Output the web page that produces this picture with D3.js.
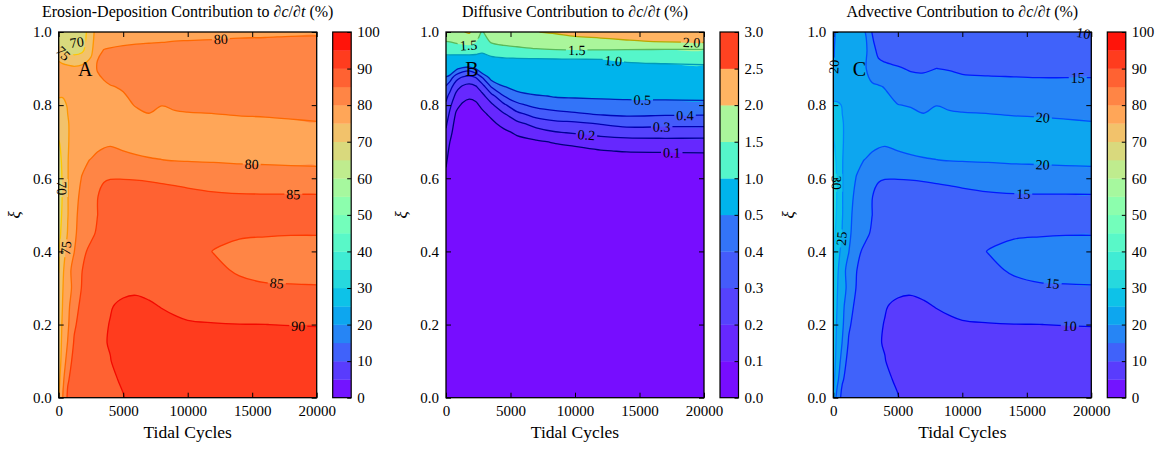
<!DOCTYPE html>
<html><head><meta charset="utf-8">
<script src="https://cdn.jsdelivr.net/npm/d3@7"></script>
<style>
body{margin:0;background:#fff;}
svg, svg text{font-family:"Liberation Serif","DejaVu Serif",serif;fill:#000;}
.tick text{font-size:15px;}
</style></head><body>
<svg id="chart" width="1166" height="450" style="font-family:'Liberation Serif','DejaVu Serif',serif"></svg>
<script>
// ---------------- DATA ----------------
// grid for panels A and C
const tidalCycles = [0, 300, 700, 1200, 1800, 2500, 3000, 3500, 4000, 5000, 6000, 7000, 8000, 9000, 10000, 12000, 14000, 16000, 18000, 20000];
const xiRows = [0, 0.05, 0.1, 0.15, 0.2, 0.25, 0.3, 0.35, 0.4, 0.45, 0.5, 0.55, 0.6, 0.65, 0.7, 0.75, 0.8, 0.85, 0.9, 0.95, 1.0];

// Erosion-Deposition contribution (%) : one row per xi (bottom to top)
const erosionDeposition = [
 [74.5, 79.8, 85.8, 87.5, 88.2, 88.5, 88.7, 88.9, 89.2, 89.9, 91, 92, 92.5, 92.8, 93, 93, 93, 93, 93, 93],
 [73.5, 78.5, 84.5, 87, 88.2, 88.8, 89.1, 89.4, 89.6, 90.3, 91.6, 92.2, 92.7, 92.9, 93, 93, 93, 93, 93, 93],
 [72.5, 77, 82, 87, 88, 88.9, 89.3, 89.6, 89.9, 91.3, 92, 92.3, 92.5, 92.6, 92.6, 92.5, 92.5, 92.5, 92.5, 92.5],
 [72, 76.3, 80.2, 85.5, 87.5, 88.8, 89.4, 89.8, 90.2, 91.2, 91.7, 91.8, 91.7, 91.6, 91.5, 91.5, 91.5, 91.5, 91.5, 91.5],
 [71.5, 75.8, 79.2, 84.3, 87, 88.5, 89.2, 89.7, 90.1, 90.8, 91, 90.9, 90.7, 90.5, 90.3, 90.15, 90.05, 90.02, 89.9, 89.8],
 [71, 75.1, 78.8, 83, 86.3, 88, 88.8, 89.4, 89.85, 90.5, 90.6, 90.3, 89.9, 89.5, 89, 88.6, 88.3, 88.1, 88, 88],
 [70.5, 74.7, 78.2, 81.3, 85.3, 87.3, 88, 88.5, 88.9, 89.4, 89.6, 89.4, 89, 88.6, 88, 87, 86, 85.5, 85.4, 85.3],
 [69.9, 74, 78.5, 81.5, 84.9, 86.8, 87.5, 88, 88.3, 88.5, 88.5, 88.4, 88.2, 87.8, 87.2, 85.8, 84.5, 83.8, 83.6, 83.5],
 [69.5, 72.5, 77, 79.9, 84.2, 85.8, 86.5, 87, 87.3, 87.5, 87.5, 87.4, 87.2, 87, 86.5, 84.9, 84.2, 83.8, 83.6, 83.5],
 [69, 71, 75.3, 79.2, 82, 84.3, 85.4, 86.3, 86.8, 87.2, 87.3, 87.3, 87.2, 87.1, 86.8, 86, 85.4, 85.3, 85.2, 85.2],
 [68.5, 70.5, 74.8, 79, 81.5, 83.8, 84.95, 86.3, 87, 87.5, 87.6, 87.6, 87.5, 87.4, 87.2, 86.8, 86.8, 86.9, 87, 87],
 [68.5, 70.2, 74.8, 78.6, 81, 83.5, 84.9, 86, 86.5, 86.7, 86.8, 86.8, 86.7, 86.5, 86.3, 85.8, 85.6, 85.5, 85.5, 85.5],
 [68.5, 70.3, 74.8, 78, 80.2, 82.5, 84, 84.7, 84.9, 84.9, 84.8, 84.6, 84.3, 84, 83.5, 82.7, 81.9, 81.8, 81.6, 81.5],
 [69, 70.5, 74.8, 77.5, 79, 80.2, 81, 81.3, 81.5, 81, 80.7, 80.3, 80.05, 79.8, 79.7, 79.6, 79.5, 79.4, 79.3, 79.2],
 [69.8, 71, 74.8, 76, 76.8, 77.5, 78.7, 79.3, 79.5, 79, 78.3, 78.1, 78, 78, 78, 78, 78, 78, 78, 78],
 [72, 72.5, 74.8, 76, 76.2, 76.5, 76.8, 77, 77.3, 77.8, 78.5, 79, 78.8, 79, 79.2, 79.3, 79.5, 79.6, 79.75, 79.9],
 [74, 74.3, 75.2, 76, 76.5, 77, 77.5, 78, 78.5, 79.2, 80.2, 80.8, 80.05, 80.4, 80.5, 80.6, 80.7, 80.75, 80.8, 80.8],
 [76.5, 76, 76, 76.5, 77, 77.8, 78.5, 79.3, 79.8, 80.3, 81.5, 81.8, 82, 82, 82, 82.2, 82.3, 82.5, 82.6, 82.7],
 [77, 77, 76.5, 76, 76.5, 77.5, 80.3, 81.2, 81.8, 82.5, 83, 83.2, 83.3, 83.4, 83.5, 83.5, 83.6, 83.6, 83.6, 83.6],
 [72, 69.5, 68.5, 68, 69, 73.5, 79.6, 80.05, 80.15, 80.3, 80.4, 80.5, 80.6, 80.7, 80.8, 81, 81.2, 81.4, 81.6, 81.8],
 [66, 66.5, 67, 67.5, 68.5, 71.5, 78.5, 78.8, 79, 79.1, 79.2, 79.2, 79.2, 79.3, 79.3, 79.3, 79.4, 79.4, 79.5, 79.5]
];

// Advective contribution (%)
const advective = [
 [24.5, 18, 13.5, 12.5, 11.8, 11.5, 11.3, 11.1, 10.8, 10.1, 9, 8, 7.5, 7.2, 7, 7, 7, 7, 7, 7],
 [26.5, 21.5, 15.5, 13, 11.8, 11.2, 10.9, 10.6, 10.4, 9.7, 8.4, 7.8, 7.3, 7.1, 7, 7, 7, 7, 7, 7],
 [27.5, 23, 18, 13, 12, 11.1, 10.7, 10.4, 10.1, 8.7, 8, 7.7, 7.5, 7.4, 7.4, 7.5, 7.5, 7.5, 7.5, 7.5],
 [28, 23.7, 19.8, 14.5, 12.5, 11.2, 10.6, 10.2, 9.8, 8.8, 8.3, 8.2, 8.3, 8.4, 8.5, 8.5, 8.5, 8.5, 8.5, 8.5],
 [28.5, 24.2, 20.8, 15.7, 13, 11.5, 10.8, 10.3, 9.9, 9.2, 9, 9.1, 9.3, 9.5, 9.7, 9.85, 9.95, 9.98, 10.1, 10.2],
 [29, 24.9, 21.2, 17, 13.7, 12, 11.2, 10.6, 10.15, 9.5, 9.4, 9.7, 10.1, 10.5, 11, 11.4, 11.7, 11.9, 12, 12],
 [29.5, 25.3, 21.8, 18.7, 14.7, 12.7, 12, 11.5, 11.1, 10.6, 10.4, 10.6, 11, 11.4, 12, 13, 14, 14.5, 14.6, 14.7],
 [30.1, 26, 21.5, 18.5, 15.1, 13.2, 12.5, 12, 11.7, 11.5, 11.5, 11.6, 11.8, 12.2, 12.8, 14.2, 15.5, 16.2, 16.4, 16.5],
 [30.5, 27.5, 23, 20.1, 15.8, 14.2, 13.5, 13, 12.7, 12.5, 12.5, 12.6, 12.8, 13, 13.5, 15.1, 15.8, 16.2, 16.4, 16.5],
 [31, 29, 24.7, 20.8, 18, 15.7, 14.6, 13.7, 13.2, 12.8, 12.7, 12.7, 12.8, 12.9, 13.2, 14, 14.6, 14.7, 14.8, 14.8],
 [31.5, 29.5, 25.2, 21, 18.5, 16.2, 15.05, 13.7, 13, 12.5, 12.4, 12.4, 12.5, 12.6, 12.8, 13.2, 13.2, 13.1, 13, 13],
 [31.5, 29.8, 25.2, 21.4, 19, 16.5, 15.1, 14, 13.5, 13.3, 13.2, 13.2, 13.3, 13.5, 13.7, 14.2, 14.4, 14.5, 14.5, 14.5],
 [31.5, 29.7, 25.2, 22, 19.8, 17.5, 16, 15.3, 15.1, 15.1, 15.2, 15.4, 15.7, 16, 16.5, 17.3, 18.1, 18.2, 18.4, 18.5],
 [31, 29.5, 25.2, 22.5, 21, 19.8, 19, 18.7, 18.5, 19, 19.3, 19.7, 19.95, 20.2, 20.3, 20.4, 20.5, 20.6, 20.7, 20.8],
 [30.2, 29, 25.2, 24, 23.2, 22.5, 21.3, 20.7, 20.5, 21, 21.7, 21.9, 22, 22, 22, 22, 22, 22, 22, 22],
 [28, 27.5, 25.2, 24, 23.8, 23.5, 23.2, 23, 22.7, 22.2, 21.5, 21, 21.2, 21, 20.8, 20.7, 20.5, 20.4, 20.25, 20.1],
 [26, 25.7, 24.8, 24, 23.5, 23, 22.5, 22, 21.5, 20.1, 19.8, 19.2, 19.95, 19.6, 19.5, 19.4, 19.3, 19.25, 19.2, 19.2],
 [21.5, 22, 22, 22, 21.8, 21.3, 20.8, 20.4, 19.8, 18, 16.5, 16.3, 16.6, 16.5, 16.3, 16.2, 16.1, 16, 16, 16],
 [19.8, 21.5, 22, 22.2, 21.8, 20.3, 17.5, 16.3, 15.8, 15.3, 14.7, 14.6, 15.02, 14.8, 14.4, 14.2, 14.1, 14, 14, 14],
 [19.3, 22, 22.5, 22.5, 22, 21, 16.5, 14, 13.5, 13, 12.8, 12.7, 12.6, 12.6, 12.6, 12.6, 12.6, 12.6, 12.5, 12.5],
 [18.5, 21.5, 22, 22, 21.5, 19.9, 14.9, 13.5, 13, 12.5, 12, 12, 11.8, 11.6, 11.5, 11.2, 11, 10.7, 10.3, 9.6]
];

// grid for panel B
const diffTidalCycles = [0, 300, 800, 1300, 1800, 2300, 2800, 3500, 4500, 5500, 7000, 8500, 10000, 12000, 14000, 17000, 20000];
const diffXiRows = [0, 0.5, 0.6, 0.625, 0.65, 0.675, 0.7, 0.725, 0.75, 0.775, 0.8, 0.825, 0.85, 0.875, 0.9, 0.925, 0.95, 0.975, 1.0];
// Diffusive contribution (%)
const diffusive = [
 [0, 0, 0, 0, 0, 0, 0, 0, 0, 0, 0, 0, 0, 0, 0, 0, 0],
 [0, 0, 0, 0, 0, 0, 0, 0, 0, 0, 0, 0, 0, 0, 0, 0, 0],
 [0.045, 0.02, 0, 0, 0, 0, 0, 0, 0, 0, 0, 0, 0, 0, 0, 0.005, 0.005],
 [0.095, 0.03, 0.005, 0, 0, 0, 0, 0.003, 0.005, 0.005, 0.008, 0.01, 0.012, 0.015, 0.018, 0.02, 0.02],
 [0.12, 0.05, 0.01, 0.005, 0.005, 0.005, 0.005, 0.008, 0.012, 0.015, 0.025, 0.03, 0.035, 0.045, 0.05, 0.052, 0.055],
 [0.142, 0.075, 0.02, 0.01, 0.01, 0.01, 0.012, 0.015, 0.025, 0.035, 0.05, 0.06, 0.07, 0.095, 0.107, 0.11, 0.112],
 [0.164, 0.101, 0.03, 0.02, 0.015, 0.015, 0.02, 0.03, 0.045, 0.065, 0.088, 0.11, 0.131, 0.159, 0.168, 0.173, 0.171],
 [0.187, 0.128, 0.045, 0.03, 0.025, 0.025, 0.035, 0.05, 0.075, 0.117, 0.156, 0.193, 0.209, 0.228, 0.244, 0.245, 0.245],
 [0.214, 0.156, 0.06, 0.045, 0.035, 0.038, 0.05, 0.075, 0.136, 0.176, 0.24, 0.272, 0.282, 0.308, 0.337, 0.331, 0.329],
 [0.248, 0.183, 0.085, 0.06, 0.05, 0.055, 0.075, 0.122, 0.189, 0.268, 0.34, 0.37, 0.386, 0.406, 0.415, 0.41, 0.407],
 [0.282, 0.22, 0.126, 0.085, 0.07, 0.08, 0.121, 0.178, 0.28, 0.378, 0.425, 0.444, 0.45, 0.457, 0.462, 0.461, 0.461],
 [0.329, 0.27, 0.172, 0.135, 0.116, 0.13, 0.173, 0.26, 0.401, 0.454, 0.488, 0.509, 0.514, 0.519, 0.525, 0.53, 0.536],
 [0.39, 0.338, 0.233, 0.186, 0.171, 0.188, 0.25, 0.402, 0.493, 0.543, 0.597, 0.626, 0.632, 0.639, 0.647, 0.655, 0.663],
 [0.484, 0.447, 0.333, 0.282, 0.263, 0.295, 0.393, 0.537, 0.637, 0.677, 0.718, 0.743, 0.75, 0.76, 0.77, 0.78, 0.791],
 [0.669, 0.634, 0.523, 0.464, 0.445, 0.502, 0.613, 0.72, 0.786, 0.812, 0.84, 0.86, 0.868, 0.88, 0.892, 0.905, 0.918],
 [0.871, 0.857, 0.814, 0.784, 0.771, 0.805, 0.849, 0.904, 0.935, 0.946, 0.961, 0.977, 0.986, 0.998, 1.05, 1.086, 1.115],
 [1.132, 1.145, 1.18, 1.214, 1.237, 1.167, 1.07, 1.2, 1.318, 1.375, 1.447, 1.476, 1.49, 1.481, 1.467, 1.443, 1.436],
 [1.51, 1.53, 1.606, 1.67, 1.706, 1.555, 1.26, 1.566, 1.662, 1.7, 1.74, 1.786, 1.829, 1.887, 1.96, 2.048, 2.097],
 [1.7, 1.8, 1.9, 1.98, 2.05, 1.75, 1.45, 1.8, 1.9, 1.95, 1.99, 2.05, 2.15, 2.22, 2.28, 2.35, 2.4]
];

// contour levels, line levels, ticks
const pctLevels = [0, 5, 10, 15, 20, 25, 30, 35, 40, 45, 50, 55, 60, 65, 70, 75, 80, 85, 90, 95, 100];
const pctTicks = [0, 10, 20, 30, 40, 50, 60, 70, 80, 90, 100];
const diffLevels = [0, 0.1, 0.2, 0.3, 0.4, 0.5, 1.0, 1.5, 2.0, 2.5, 3.0];
const erosionLines = [70, 75, 80, 85, 90];
const diffLines = [0.1, 0.2, 0.3, 0.4, 0.5, 1.0, 1.5, 2.0];
const advectLines = [10, 15, 20, 25, 30];
const xTickValues = [0, 5000, 10000, 15000, 20000];
const yTickValues = [0, 0.2, 0.4, 0.6, 0.8, 1.0];

// contour label anchors (value, tidal cycle, xi [, fixed angle])
const erosionLabels = [[70,1400,0.972,-8],[75,360,0.942,45],[80,12580,0.976],[80,14960,0.634],[85,18190,0.561],[85,16900,0.31],[90,18570,0.194],[70,100,0.573],[75,490,0.409]];
const diffLabels = [[1.5,1730,0.96],[1.5,10130,0.95],[1.0,12970,0.921],[2.0,19040,0.969],[0.5,15220,0.828],[0.4,18530,0.773],[0.3,16720,0.743],[0.2,10900,0.723],[0.1,17500,0.673]];
const advectLabels = [[10,19330,0.983],[15,18950,0.878],[20,16230,0.759],[20,16230,0.634],[15,14730,0.561],[15,17000,0.31],[10,18330,0.194],[20,260,0.905],[30,260,0.588],[25,440,0.436]];

// ---------------- DRAWING ----------------
const W = 1166, H = 450;
const PT = 32, PH = 365.7, PW = 258;
const FONT = '"Liberation Serif","DejaVu Serif",serif';
const svg = d3.select('#chart');
const defs = svg.append('defs');
const closedCurve = d3.line().curve(d3.curveCatmullRomClosed.alpha(0.5));
const openCurve = d3.line().curve(d3.curveCatmullRom.alpha(0.5));

function rainbow(x){
  x = Math.max(0, Math.min(1, x));
  const r = Math.min(1, Math.abs(2*x - 0.5)), g = Math.sin(Math.PI*x), b = Math.cos(Math.PI*x/2);
  return d3.rgb(r*255, g*255, b*255) + '';
}
const jetR=[[0,0],[0.35,0],[0.66,1],[0.89,1],[1,0.5]];
const jetG=[[0,0],[0.125,0],[0.375,1],[0.64,1],[0.91,0],[1,0]];
const jetB=[[0,0.5],[0.11,1],[0.34,1],[0.65,0],[1,0]];
function seg(s,x){ for(let i=1;i<s.length;i++){ if(x<=s[i][0]){ const [a0,b0]=s[i-1],[a1,b1]=s[i]; return b0+(b1-b0)*(x-a0)/(a1-a0);} } return s[s.length-1][1]; }
function jet(x){ return d3.rgb(seg(jetR,x)*255, seg(jetG,x)*255, seg(jetB,x)*255); }

function dedupe(pts){
  const out = [];
  pts.forEach(p => { const q = out[out.length-1]; if (!q || Math.abs(q[0]-p[0]) > 0.02 || Math.abs(q[1]-p[1]) > 0.02) out.push(p); });
  if (out.length > 1) { const a = out[0], b = out[out.length-1]; if (Math.abs(a[0]-b[0]) <= 0.02 && Math.abs(a[1]-b[1]) <= 0.02) out.pop(); }
  return out;
}

function drawPanel(p){
  const x0 = p.left, x1 = x0 + PW, y0 = PT, y1 = PT + PH;
  const xS = d3.scaleLinear().domain([0, 20000]).range([x0, x1]);
  const yS = d3.scaleLinear().domain([0, 1]).range([y1, y0]);
  const nx = p.t.length, ny = p.xi.length;
  const gx = d3.scaleLinear().domain(d3.range(nx)).range(p.t).clamp(true);
  const gy = d3.scaleLinear().domain(d3.range(ny)).range(p.xi).clamp(true);
  const proj = c => [xS(gx(c[0]-0.5)), yS(gy(c[1]-0.5))];
  const values = [].concat(...p.z);
  const L = p.levels, vmin = L[0], vmax = L[L.length-1];
  const bandColor = i => rainbow(((L[i]+L[i+1])/2 - vmin)/(vmax - vmin));

  defs.append('clipPath').attr('id','clip'+p.id).append('rect')
    .attr('x',x0).attr('y',y0).attr('width',PW).attr('height',PH);
  const g = svg.append('g').attr('clip-path',`url(#clip${p.id})`);
  g.append('rect').attr('x',x0).attr('y',y0).attr('width',PW).attr('height',PH).attr('fill',bandColor(0));
  const filled = d3.contours().size([nx, ny]).thresholds(L.slice(0,-1))(values);
  filled.forEach((c,i) => {
    if (!c.coordinates.length) return;
    const d = c.coordinates.map(poly => poly.map(ring => {
      const pts = dedupe(ring.map(proj));
      return pts.length > 2 ? closedCurve(pts) : '';
    }).join('')).join('');
    g.append('path').attr('d', d).attr('fill', bandColor(i)).attr('fill-rule','evenodd');
  });

  // contour lines
  const eq = (a,b) => Math.abs(a-b) < 1e-6;
  const onFrame = (a,b) => (eq(a[0],b[0]) && (eq(a[0],x0)||eq(a[0],x1))) || (eq(a[1],b[1]) && (eq(a[1],y0)||eq(a[1],y1)));
  const lineC = d3.contours().size([nx, ny]).thresholds(p.lineLevels)(values);
  const lines = lineC.map(c => {
    const polys = [];
    c.coordinates.forEach(poly => poly.forEach(ring => {
      const pts = dedupe(ring.map(proj));
      const n = pts.length;
      if (n < 3) return;
      let start = -1;
      for (let k=0;k<n;k++){ if (onFrame(pts[k], pts[(k+1)%n])) { start = (k+1)%n; break; } }
      if (start < 0) { polys.push({pts, closed:true}); return; }
      const seq = [];
      for (let k=0;k<=n;k++) seq.push(pts[(start+k)%n]);
      let cur = [];
      for (let k=0;k<seq.length-1;k++){
        const a = seq[k], b = seq[k+1];
        if (onFrame(a,b)) { if (cur.length>1) polys.push({pts:cur, closed:false}); cur = []; continue; }
        if (!cur.length) cur.push(a);
        cur.push(b);
      }
      if (cur.length>1) polys.push({pts:cur, closed:false});
    }));
    return {level: c.value, polys};
  });
  const maskId = 'mask'+p.id;
  const mask = defs.append('mask').attr('id',maskId).attr('maskUnits','userSpaceOnUse')
    .attr('x',0).attr('y',0).attr('width',W).attr('height',H);
  mask.append('rect').attr('width',W).attr('height',H).attr('fill','#fff');
  const lg = g.append('g').attr('mask',`url(#${maskId})`);
  lines.forEach(l => {
    let col = jet((l.level - vmin)/(vmax - vmin));
    if (p.lineDarken) col = col.darker(p.lineDarken);
    l.polys.forEach(pl => lg.append('path')
      .attr('d', pl.closed ? closedCurve(pl.pts) : openCurve(pl.pts))
      .attr('fill','none').attr('stroke',col+'').attr('stroke-width',1.3).attr('stroke-linejoin','round'));
  });

  // contour labels
  const labG = svg.append('g');
  p.labels.forEach(([v,t,xi,fixAng]) => {
    const target = [xS(t), yS(xi)];
    const ln = lines.find(l => Math.abs(l.level - v) < 1e-9);
    let best = null;
    if (ln) ln.polys.forEach(P => {
      const pl = P.pts;
      for (let k=0;k<pl.length-1;k++){
        const a=pl[k], b=pl[k+1], dx=b[0]-a[0], dy=b[1]-a[1], len2=dx*dx+dy*dy;
        let u = len2 ? ((target[0]-a[0])*dx + (target[1]-a[1])*dy)/len2 : 0;
        u = Math.max(0, Math.min(1, u));
        const q = [a[0]+u*dx, a[1]+u*dy];
        const d = Math.hypot(q[0]-target[0], q[1]-target[1]);
        if (!best || d < best.d) {
          const A = pl[Math.max(0,k-1)], B = pl[Math.min(pl.length-1,k+2)];
          best = {d, q, ang: Math.atan2(B[1]-A[1], B[0]-A[0])*180/Math.PI};
        }
      }
    });
    let pos = target, ang = 0;
    if (best && best.d < 14) { pos = best.q; ang = best.ang; if (ang > 90) ang -= 180; if (ang < -90) ang += 180; }
    if (fixAng !== undefined) { pos = target; ang = fixAng; }
    const tr = `translate(${pos[0].toFixed(2)},${pos[1].toFixed(2)}) rotate(${ang.toFixed(1)})`;
    const txt = labG.append('text').attr('transform',tr).attr('text-anchor','middle')
      .attr('dy','0.35em').style('font-family',FONT).style('font-size','14px').text(p.labelFmt(v));
    const w = txt.node().getComputedTextLength();
    mask.append('rect').attr('x',-w/2-2).attr('y',-6).attr('width',w+4).attr('height',12)
      .attr('transform',tr).attr('fill','#000');
  });

  // axes
  const axG = svg.append('g');
  const ax = [
    axG.append('g').attr('transform',`translate(0,${y1})`).call(d3.axisBottom(xS).tickValues(xTickValues).tickSize(-5).tickPadding(8).tickFormat(d3.format('d'))),
    axG.append('g').attr('transform',`translate(0,${y0})`).call(d3.axisTop(xS).tickValues(xTickValues).tickSize(-5).tickFormat('')),
    axG.append('g').attr('transform',`translate(${x0},0)`).call(d3.axisLeft(yS).tickValues(yTickValues).tickSize(-5).tickPadding(7).tickFormat(d3.format('.1f'))),
    axG.append('g').attr('transform',`translate(${x1},0)`).call(d3.axisRight(yS).tickValues(yTickValues).tickSize(-5).tickFormat(''))
  ];
  ax.forEach(a => { a.attr('font-family',FONT).attr('font-size',15); a.select('.domain').remove(); a.selectAll('line').attr('stroke','#000'); a.selectAll('text').style('font-family',FONT); });
  svg.append('rect').attr('x',x0).attr('y',y0).attr('width',PW).attr('height',PH)
    .attr('fill','none').attr('stroke','#000').attr('stroke-width',1.3);

  // colorbar
  const cbx = x1 + 16, cbw = 18.5;
  const cbY = d3.scaleLinear().domain(L).range(L.map((_,i) => y1 - i*PH/(L.length-1)));
  const cb = svg.append('g');
  for (let i=0;i<L.length-1;i++){
    cb.append('rect').attr('x',cbx).attr('y',cbY(L[i+1])).attr('width',cbw)
      .attr('height',cbY(L[i])-cbY(L[i+1])+0.3).attr('fill',bandColor(i));
  }
  const cba = cb.append('g').attr('transform',`translate(${cbx+cbw},0)`)
    .call(d3.axisRight(cbY).tickValues(p.cbTicks).tickSize(-4).tickPadding(6).tickFormat(p.cbFmt));
  cba.attr('font-family',FONT).attr('font-size',15); cba.select('.domain').remove();
  cba.selectAll('line').attr('stroke','#000'); cba.selectAll('text').style('font-family',FONT);
  cb.append('rect').attr('x',cbx).attr('y',y0).attr('width',cbw).attr('height',PH)
    .attr('fill','none').attr('stroke','#000').attr('stroke-width',1.2);

  // titles & labels
  const cx = (x0+x1)/2;
  const title = svg.append('text').attr('x',cx).attr('y',17).attr('text-anchor','middle')
    .style('font-family',FONT).style('font-size','16px');
  title.append('tspan').text(p.title + ' Contribution to ∂');
  title.append('tspan').style('font-style','italic').text('c');
  title.append('tspan').text('/∂');
  title.append('tspan').style('font-style','italic').text('t');
  title.append('tspan').text(' (%)');
  svg.append('text').attr('x',cx).attr('y',438).attr('text-anchor','middle')
    .style('font-family',FONT).style('font-size','17.5px').text('Tidal Cycles');
  svg.append('text').attr('transform',`translate(${Math.max(15, x0-44)},${(y0+y1)/2}) rotate(-90)`).attr('text-anchor','middle')
    .attr('dy','0.3em').style('font-family',FONT).style('font-size','17px').style('font-style','italic').text('ξ');
  svg.append('text').attr('x',xS(1500)).attr('y',yS(0.88))
    .style('font-family',FONT).style('font-size','20px').text(p.letter);
}

drawPanel({id:'A', left:58.7, t:tidalCycles, xi:xiRows, z:erosionDeposition, levels:pctLevels,
  lineLevels:erosionLines, labels:erosionLabels, labelFmt:d3.format('d'), cbTicks:pctTicks, cbFmt:d3.format('d'),
  title:'Erosion-Deposition', letter:'A'});
drawPanel({id:'B', left:446, t:diffTidalCycles, xi:diffXiRows, z:diffusive, levels:diffLevels,
  lineLevels:diffLines, labels:diffLabels, labelFmt:d3.format('.1f'), cbTicks:diffLevels, cbFmt:d3.format('.1f'),
  title:'Diffusive', letter:'B', lineDarken:0.9});
drawPanel({id:'C', left:833.3, t:tidalCycles, xi:xiRows, z:advective, levels:pctLevels,
  lineLevels:advectLines, labels:advectLabels, labelFmt:d3.format('d'), cbTicks:pctTicks, cbFmt:d3.format('d'),
  title:'Advective', letter:'C'});
</script></body></html>
